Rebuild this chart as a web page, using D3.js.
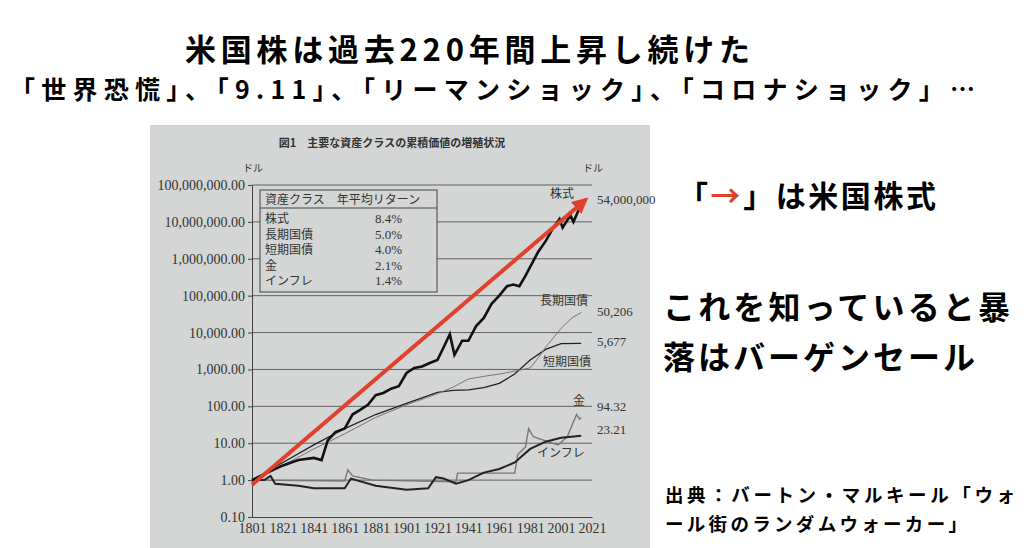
<!DOCTYPE html>
<html><head><meta charset="utf-8">
<script src="https://cdn.jsdelivr.net/npm/d3@7"></script>
<style>body{margin:0;background:#fff}svg{display:block}</style>
</head><body>
<svg id="c" width="1024" height="548"></svg>
<script>
// values (year, dollars)
const stocks = [[1801,1],[1811,1.6],[1821,2.5],[1831,3.5],[1841,4],[1846,3.5],[1850,12],[1855,20],[1861,25],[1866,60],[1871,80],[1876,110],[1881,200],[1886,230],[1891,300],[1896,350],[1901,800],[1906,1100],[1911,1200],[1916,1500],[1921,1800],[1925,4000],[1929,9000],[1932,2500],[1937,6000],[1941,6000],[1946,15000],[1951,25000],[1956,60000],[1961,100000],[1966,180000],[1970,200000],[1974,180000],[1978,350000],[1981,600000],[1986,1500000],[1991,3000000],[1996,7000000],[2000,12000000],[2002,7000000],[2007,15000000],[2009,10000000],[2014,30000000]];
const bonds = [[1801,1],[1821,2.5],[1841,7],[1861,18],[1881,50],[1901,110],[1921,220],[1931,330],[1941,550],[1951,650],[1961,750],[1971,900],[1981,1100],[1986,2000],[1991,4000],[2001,13000],[2008,25000],[2014,35000]];
const bills = [[1801,1],[1821,3],[1841,9],[1861,25],[1881,60],[1901,120],[1921,240],[1931,270],[1941,280],[1951,320],[1961,420],[1971,750],[1981,1800],[1991,3500],[2001,5000],[2014,5100]];
const gold = [[1801,1],[1861,0.95],[1863,1.9],[1866,1.3],[1879,1],[1933,0.9],[1934,1.55],[1971,1.55],[1973,5],[1975,6],[1978,8],[1980,25],[1983,15],[1990,12],[1999,9],[2005,15],[2011,60],[2013,45],[2014,50]];
const inflation = [[1801,1],[1809,1],[1813,1.3],[1816,0.8],[1831,0.7],[1841,0.6],[1861,0.6],[1865,1.1],[1881,0.7],[1901,0.55],[1915,0.6],[1920,1.2],[1925,1.1],[1933,0.8],[1941,1],[1951,1.6],[1961,2],[1971,3],[1981,7],[1991,11],[2001,14],[2014,16]];
const yTicks = [0.1,1,10,100,1000,1e4,1e5,1e6,1e7,1e8];
const xTicks = d3.range(1801, 2022, 20);
const legendRows = [["株式","8.4%"],["長期国債","5.0%"],["短期国債","4.0%"],["金","2.1%"],["インフレ","1.4%"]];
const endLabels = [["54,000,000",40e6],["50,206",50206*0.7],["5,677",5677],["94.32",94],["23.21",23]];

const svg = d3.select("#c");
const jp = "'Noto Sans CJK JP', sans-serif";
const serif = "'Liberation Serif','DejaVu Serif',serif";

// slide text, stretched to the widths seen in the reference
function slideText(str, px, py, size, len) {
  return svg.append("text").attr("x",px).attr("y",py).attr("font-family",jp).attr("font-weight",700)
    .attr("font-size",size).attr("textLength",len).attr("lengthAdjust","spacing").text(str);
}
slideText("米国株は過去220年間上昇し続けた",185,61,31,565);
slideText("「世界恐慌」、「9.11」、「リーマンショック」、「コロナショック」…",10,99,25,965);
const t1 = svg.append("text").attr("x",678).attr("y",207).attr("font-family",jp).attr("font-weight",700)
  .attr("font-size",30).attr("textLength",258).attr("lengthAdjust","spacing");
t1.append("tspan").text("「"); t1.append("tspan").attr("fill","#e0402c").text("→"); t1.append("tspan").text("」は米国株式");
slideText("これを知っていると暴",663,319,32,347);
slideText("落はバーゲンセール",663,369,32,312);
slideText("出典：バートン・マルキール「ウォ",665,502,18.5,350);
slideText("ール街のランダムウォーカー」",665,531,18.5,302);

// photo background
svg.append("rect").attr("x",150).attr("y",125).attr("width",500).attr("height",423).attr("fill","#d3d6d4");
svg.append("text").attr("x",392).attr("y",147).attr("text-anchor","middle").attr("font-family",jp).attr("font-size",11).attr("font-weight",700)
  .attr("fill","#333").text("図1　主要な資産クラスの累積価値の増殖状況");
svg.append("text").attr("x",243).attr("y",172).attr("font-family",jp).attr("font-size",10).attr("fill","#333").text("ドル");
svg.append("text").attr("x",583).attr("y",172).attr("font-family",jp).attr("font-size",10).attr("fill","#333").text("ドル");

const x = d3.scaleLinear().domain([1801,2021]).range([252,592]);
const y = d3.scaleLog().domain([0.1,1e8]).range([517,185]);

const g = svg.append("g");
g.selectAll("line.grid").data(yTicks.slice(1)).join("line").attr("class","grid")
  .attr("x1",252).attr("x2",592).attr("y1",d=>y(d)).attr("y2",d=>y(d)).attr("stroke","#444").attr("stroke-width",0.8);
g.append("g").attr("transform","translate(252,0)")
  .call(d3.axisLeft(y).tickValues(yTicks).tickSize(4).tickFormat(d=>d3.format(",.2f")(d)))
  .call(a=>a.selectAll("text").attr("font-family",serif).attr("font-size",14).attr("fill","#333"))
  .call(a=>a.selectAll("path,line").attr("stroke","#444"));
g.append("g").attr("transform","translate(0,517)")
  .call(d3.axisBottom(x).tickValues(xTicks).tickSize(0).tickFormat(d3.format("d")))
  .call(a=>a.selectAll("text").attr("font-family",serif).attr("font-size",14).attr("fill","#333").attr("dy","0.9em"))
  .call(a=>a.select("path").attr("stroke","#444"));

const line = d3.line().x(d=>x(d[0])).y(d=>y(d[1]));
const series = [[bills,"#222",1.3],[bonds,"#777",1],[gold,"#777",1.4],[inflation,"#222",2],[stocks,"#111",2.6]];
series.forEach(([d,c,w]) => g.append("path").datum(d).attr("d",line).attr("fill","none").attr("stroke",c).attr("stroke-width",w));

// legend box
const lb = g.append("g").attr("font-family",jp).attr("font-size",12).attr("fill","#333");
lb.append("rect").attr("x",260).attr("y",190).attr("width",177).attr("height",102).attr("fill","#d3d6d4").attr("stroke","#444");
lb.append("line").attr("x1",260).attr("x2",437).attr("y1",208).attr("y2",208).attr("stroke","#444");
lb.append("text").attr("x",265).attr("y",204).text("資産クラス　年平均リターン");
lb.selectAll("text.row").data(legendRows).join("text").attr("class","row").attr("x",265).attr("y",(d,i)=>223+i*15.5).text(d=>d[0]);
lb.selectAll("text.val").data(legendRows).join("text").attr("class","val").attr("x",402).attr("text-anchor","end")
  .attr("font-family",serif).attr("font-size",13).attr("y",(d,i)=>223+i*15.5).text(d=>d[1]);

// series labels
[["株式",550,198],["長期国債",540,305],["短期国債",543,366],["金",573,405],["インフレ",537,457]].forEach(([t,px,py]) =>
  g.append("text").attr("x",px).attr("y",py).attr("font-family",jp).attr("font-size",12).attr("fill","#333").text(t));
g.selectAll("text.end").data(endLabels).join("text").attr("class","end").attr("x",597).attr("y",d=>y(d[1])+4)
  .attr("font-family",serif).attr("font-size",13).attr("fill","#333").text(d=>d[0]);

// red arrow
const defs = svg.append("defs");
defs.append("marker").attr("id","ah").attr("viewBox","0 0 10 10").attr("refX",8).attr("refY",5)
  .attr("markerWidth",4).attr("markerHeight",4).attr("orient","auto")
  .append("path").attr("d","M0,0L10,5L0,10z").attr("fill","#e0402c");
g.append("line").attr("x1",x(1801)).attr("y1",y(0.75)).attr("x2",x(2017)).attr("y2",y(4e7))
  .attr("stroke","#e0402c").attr("stroke-width",4).attr("marker-end","url(#ah)");
</script>
</body></html>
